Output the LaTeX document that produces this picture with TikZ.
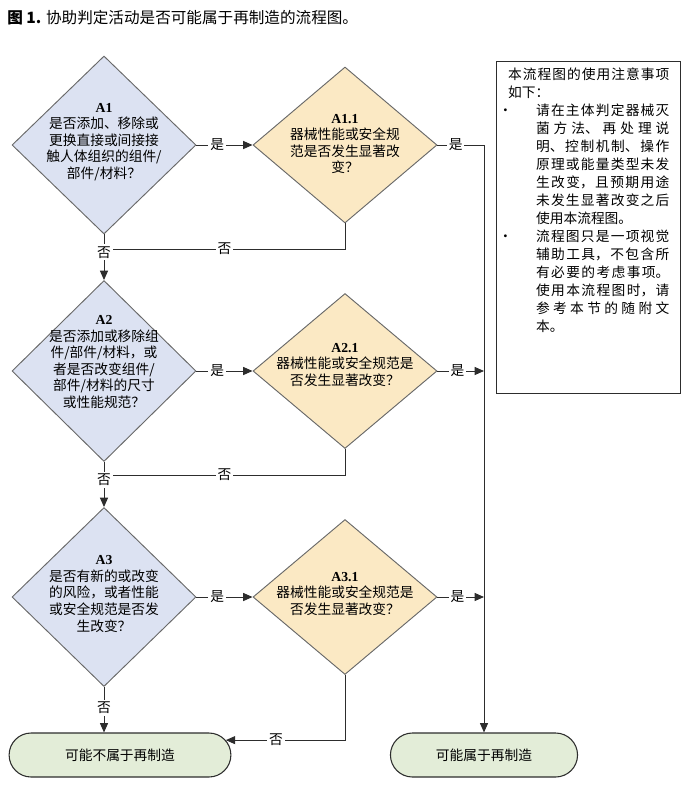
\documentclass[tikz,border=0pt]{standalone}
\usepackage{fontspec}
\setmainfont{Liberation Serif}
\newfontfamily\cjk{Noto Sans CJK SC}
\usetikzlibrary{arrows.meta,shapes.geometric,shapes.misc}
\XeTeXlinebreaklocale "zh"
\XeTeXlinebreakskip=0pt plus 4pt

\definecolor{askblue}{RGB}{220,226,242}
\definecolor{checkyellow}{RGB}{251,233,196}
\definecolor{endgreen}{RGB}{227,237,216}
\definecolor{edgegray}{RGB}{105,105,105}
\definecolor{linegray}{RGB}{45,45,45}

\begin{document}
\begin{tikzpicture}[x=0.75pt,y=-0.75pt,
  ask/.style={diamond,draw=edgegray,fill=askblue,line width=0.7pt,inner sep=0pt,minimum width=138pt},
  check/.style={diamond,draw=edgegray,fill=checkyellow,line width=0.7pt,inner sep=0pt,minimum width=138pt},
  txt/.style={align=center,inner sep=0pt,font=\fontsize{10.3pt}{12.4pt}\cjk},
  endbox/.style={rounded rectangle,draw=linegray,fill=endgreen,line width=0.8pt,minimum height=33pt,font=\fontsize{10.3pt}{12.4pt}\cjk},
  notebox/.style={draw=linegray,line width=0.9pt,inner xsep=8.6pt,inner ysep=5pt},
  flow/.style={draw=linegray,line width=0.75pt,-{Triangle[length=7pt,width=6pt]}},
  wire/.style={draw=linegray,line width=0.75pt},
  lbl/.style={fill=white,inner sep=1.5pt,font=\fontsize{10.3pt}{12pt}\cjk}]
\useasboundingbox (0,0) rectangle (688,800);

% Title
\node[anchor=west,inner sep=0pt] (title) at (7,18)
  {\fontsize{11.7pt}{14pt}\cjk\textbf{图 1.} 协助判定活动是否可能属于再制造的流程图。};

% Question diamonds
\node[ask,minimum height=133.5pt] (a1) at (104,145) {};
\node[check,minimum height=117pt] (a11) at (345,145) {};
\node[ask,minimum height=135.75pt] (a2) at (104,371) {};
\node[check,minimum height=116.25pt] (a21) at (345,371) {};
\node[ask,minimum height=134.25pt] (a3) at (104,597) {};
\node[check,minimum height=116.25pt] (a31) at (345,597) {};

\node[txt] (a1t) at (104,142) {\textbf{\rmfamily A1}\\是否添加、移除或\\更换直接或间接接\\触人体组织的组件/\\部件/材料？};
\node[txt] (a11t) at (345,144) {\textbf{\rmfamily A1.1}\\器械性能或安全规\\范是否发生显著改\\变？};
\node[txt] (a2t) at (104,362) {\textbf{\rmfamily A2}\\是否添加或移除组\\件/部件/材料，或\\者是否改变组件/\\部件/材料的尺寸\\或性能规范？};
\node[txt] (a21t) at (345,365) {\textbf{\rmfamily A2.1}\\器械性能或安全规范是\\否发生显著改变？};
\node[txt] (a3t) at (104,594) {\textbf{\rmfamily A3}\\是否有新的或改变\\的风险，或者性能\\或安全规范是否发\\生改变？};
\node[txt] (a31t) at (345,594) {\textbf{\rmfamily A3.1}\\器械性能或安全规范是\\否发生显著改变？};

% End boxes
\node[endbox,minimum width=173pt] (nobox) at (120,755) {可能不属于再制造};
\node[endbox,minimum width=147pt] (yesbox) at (484,755) {可能属于再制造};

% Notes
\node[notebox,anchor=north west] (note) at (496,61) {\parbox[c][239pt][t]{121pt}{%
  \fontsize{10.3pt}{13.5pt}\cjk
  本流程图的使用注意事项\linebreak 如下：\par
  \hangindent=21pt\hangafter=0\leavevmode\llap{\makebox[21pt][l]{\hspace{-7pt}•}}%
  请在主体判定器械灭\linebreak 菌方法、再处理说\linebreak 明、控制机制、操作\linebreak 原理或能量类型未发\linebreak 生改变，且预期用途\linebreak 未发生显著改变之后\linebreak 使用本流程图。\par
  \hangindent=21pt\hangafter=0\leavevmode\llap{\makebox[21pt][l]{\hspace{-7pt}•}}%
  流程图只是一项视觉\linebreak 辅助工具，不包含所\linebreak 有必要的考虑事项。\linebreak 使用本流程图时，请\linebreak 参考本节的随附文\linebreak 本。\par}};

% Yes branches
\draw[flow] (a1.east) -- node[lbl,pos=0.37]{是} (a11.west);
\draw[flow] (a2.east) -- node[lbl,pos=0.37]{是} (a21.west);
\draw[flow] (a3.east) -- node[lbl,pos=0.37]{是} (a31.west);
\draw[flow] (a11.east) -- node[lbl,pos=0.39]{是} (a11.east -| yesbox.north) -- (yesbox.north);
\draw[flow] (a21.east) -- node[lbl,pos=0.43]{是} (a21.east -| yesbox.north);
\draw[flow] (a31.east) -- node[lbl,pos=0.43]{是} (a31.east -| yesbox.north);

% No branches
\coordinate (j1) at (104,249);
\coordinate (j2) at (104,475);
\draw[wire] (a11.south) |- node[lbl,pos=0.75]{否} (j1);
\draw[wire] (a21.south) |- node[lbl,pos=0.75]{否} (j2);
\draw[flow] (a1.south) -- node[lbl,pos=0.39]{否} (a2.north);
\draw[flow] (a2.south) -- node[lbl,pos=0.4]{否} (a3.north);
\draw[flow] (a3.south) -- node[lbl,pos=0.46]{否} (a3.south |- nobox.north);
\draw[flow] (a31.south) |- node[lbl,pos=0.79]{否} (nobox.8);

\end{tikzpicture}
\end{document}
